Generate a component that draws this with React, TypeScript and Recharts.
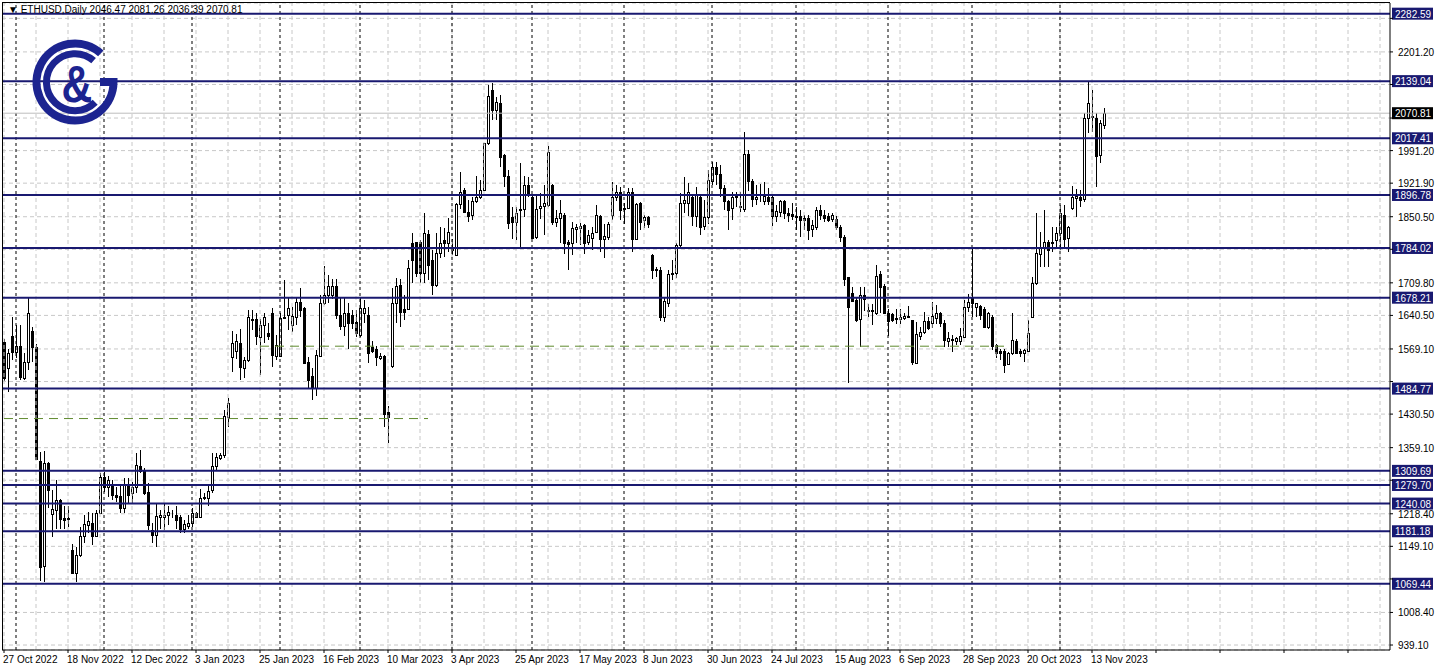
import React from 'react';
import { ComposedChart, Bar, XAxis, YAxis, CartesianGrid, ReferenceLine } from 'recharts';

// ETHUSD daily candles, 27 Oct 2022 .. 15 Nov 2023 (weekdays only)
const opens = [
  1584, 1528, 1597, 1563, 1575, 1508, 1542, 1607, 1574, 1330, 1107, 1326, 1218, 1227, 1248, 1209, 1207, 1141, 1093, 1130,
  1171, 1195, 1198, 1171, 1219, 1296, 1275, 1278, 1258, 1256, 1231, 1280, 1263, 1276, 1319, 1312, 1265, 1184, 1174, 1211,
  1211, 1216, 1219, 1216, 1212, 1185, 1192, 1199, 1219, 1211, 1253, 1253, 1269, 1319, 1338, 1343, 1425, 1553, 1565, 1581,
  1528, 1546, 1632, 1632, 1594, 1620, 1604, 1645, 1554, 1554, 1634, 1641, 1620, 1638, 1668, 1656, 1542, 1511, 1485, 1554,
  1666, 1684, 1684, 1703, 1641, 1618, 1645, 1641, 1627, 1599, 1645, 1641, 1573, 1568, 1549, 1554, 1436, 1533, 1666, 1705,
  1655, 1655, 1795, 1797, 1797, 1730, 1813, 1758, 1705, 1774, 1802, 1795, 1787, 1770, 1877, 1907, 1861, 1854, 1884, 1892,
  1907, 2007, 2121, 2078, 2092, 1982, 1937, 1850, 1840, 1864, 1866, 1919, 1893, 1808, 1870, 1874, 1875, 1918, 1840, 1847,
  1854, 1797, 1794, 1825, 1826, 1833, 1797, 1805, 1818, 1852, 1804, 1808, 1854, 1893, 1904, 1870, 1870, 1904, 1804, 1879,
  1843, 1850, 1769, 1738, 1738, 1638, 1666, 1728, 1731, 1790, 1879, 1880, 1893, 1852, 1892, 1831, 1849, 1927, 1957, 1941,
  1911, 1885, 1870, 1892, 1874, 1868, 1985, 1926, 1889, 1893, 1885, 1893, 1893, 1851, 1861, 1883, 1858, 1856, 1851, 1851,
  1847, 1847, 1824, 1829, 1865, 1854, 1851, 1845, 1845, 1829, 1808, 1723, 1689, 1673, 1632, 1684, 1652, 1649, 1646, 1728,
  1703, 1645, 1643, 1636, 1632, 1634, 1638, 1631, 1540, 1597, 1606, 1629, 1625, 1636, 1645, 1625, 1587, 1590, 1587, 1587,
  1595, 1659, 1677, 1659, 1660, 1655, 1616, 1638, 1577, 1565, 1565, 1537, 1560, 1587, 1565, 1561, 1565, 1638, 1710, 1771,
  1787, 1797, 1795, 1800, 1815, 1854, 1805, 1870, 1891, 1893, 1889, 2061, 2064, 2061, 1982, 2046.47,
];
const highs = [
  1590, 1570, 1638, 1620, 1621, 1560, 1679, 1616, 1580, 1350, 1351, 1329, 1269, 1290, 1250, 1234, 1234, 1154, 1148, 1191,
  1216, 1223, 1219, 1226, 1305, 1308, 1299, 1290, 1276, 1280, 1294, 1294, 1287, 1348, 1354, 1315, 1283, 1198, 1239, 1226,
  1239, 1234, 1226, 1234, 1216, 1205, 1216, 1230, 1223, 1272, 1262, 1282, 1347, 1347, 1348, 1439, 1464, 1608, 1600, 1611,
  1553, 1653, 1652, 1645, 1632, 1645, 1624, 1656, 1599, 1645, 1716, 1677, 1659, 1677, 1698, 1659, 1553, 1528, 1567, 1684,
  1746, 1726, 1719, 1719, 1677, 1677, 1666, 1652, 1652, 1677, 1673, 1659, 1585, 1575, 1560, 1556, 1448, 1698, 1720, 1719,
  1684, 1758, 1815, 1797, 1801, 1858, 1822, 1780, 1815, 1829, 1826, 1847, 1804, 1879, 1946, 1911, 1886, 1893, 1937, 1929,
  2008, 2131, 2134, 2106, 2109, 1985, 1950, 1872, 1872, 1964, 1937, 1936, 1897, 1897, 1900, 1918, 2001, 1921, 1865, 1886,
  1858, 1801, 1840, 1836, 1838, 1836, 1822, 1829, 1875, 1854, 1836, 1840, 1925, 1918, 1914, 1879, 1911, 1911, 1879, 1882,
  1854, 1852, 1772, 1744, 1744, 1679, 1737, 1758, 1794, 1902, 1936, 1923, 1897, 1914, 1897, 1886, 1950, 1968, 1968, 1961,
  1918, 1887, 1904, 1904, 1904, 2031, 1992, 1930, 1918, 1920, 1925, 1911, 1897, 1875, 1887, 1887, 1870, 1879, 1872, 1865,
  1855, 1854, 1843, 1872, 1875, 1865, 1858, 1858, 1851, 1833, 1811, 1723, 1702, 1680, 1701, 1700, 1665, 1665, 1748, 1734,
  1708, 1655, 1646, 1655, 1655, 1645, 1660, 1631, 1627, 1616, 1648, 1638, 1670, 1662, 1648, 1631, 1606, 1599, 1595, 1613,
  1674, 1687, 1787, 1666, 1662, 1659, 1648, 1641, 1580, 1570, 1570, 1563, 1645, 1590, 1570, 1570, 1631, 1723, 1858, 1818,
  1865, 1801, 1828, 1828, 1875, 1875, 1831, 1916, 1909, 1907, 2072, 2138, 2120, 2072, 2056, 2081.26,
];
const lows = [
  1500, 1478, 1546, 1549, 1503, 1502, 1524, 1542, 1333, 1075, 1074, 1230, 1170, 1187, 1187, 1187, 1191, 1092, 1074, 1127,
  1156, 1177, 1152, 1170, 1218, 1265, 1255, 1248, 1244, 1219, 1219, 1241, 1242, 1262, 1305, 1258, 1184, 1156, 1148, 1187,
  1184, 1195, 1209, 1187, 1178, 1177, 1185, 1191, 1209, 1209, 1248, 1235, 1262, 1312, 1333, 1338, 1404, 1521, 1548, 1503,
  1507, 1542, 1609, 1578, 1514, 1581, 1588, 1531, 1546, 1553, 1632, 1609, 1606, 1620, 1638, 1539, 1487, 1460, 1468, 1553,
  1663, 1666, 1675, 1632, 1609, 1597, 1570, 1611, 1595, 1594, 1624, 1539, 1560, 1533, 1546, 1404, 1368, 1528, 1624, 1616,
  1631, 1652, 1709, 1723, 1709, 1709, 1716, 1684, 1702, 1762, 1765, 1776, 1769, 1768, 1868, 1858, 1840, 1843, 1880, 1889,
  1906, 2003, 2056, 2056, 1957, 1914, 1824, 1804, 1801, 1783, 1850, 1893, 1804, 1804, 1845, 1811, 1872, 1833, 1829, 1794,
  1772, 1737, 1769, 1794, 1790, 1772, 1790, 1780, 1815, 1776, 1762, 1801, 1843, 1884, 1843, 1836, 1868, 1776, 1801, 1822,
  1826, 1826, 1719, 1723, 1629, 1627, 1658, 1716, 1720, 1787, 1858, 1851, 1831, 1829, 1811, 1822, 1836, 1918, 1918, 1893,
  1865, 1822, 1843, 1872, 1861, 1861, 1905, 1872, 1875, 1882, 1875, 1876, 1830, 1840, 1849, 1845, 1840, 1843, 1822, 1808,
  1822, 1801, 1808, 1822, 1843, 1840, 1840, 1840, 1822, 1797, 1703, 1496, 1670, 1627, 1574, 1650, 1638, 1620, 1641, 1645,
  1645, 1597, 1627, 1623, 1623, 1630, 1634, 1535, 1537, 1588, 1602, 1610, 1613, 1623, 1615, 1574, 1574, 1563, 1578, 1578,
  1592, 1648, 1638, 1638, 1631, 1613, 1611, 1567, 1549, 1546, 1517, 1535, 1556, 1560, 1553, 1542, 1563, 1634, 1705, 1743,
  1744, 1744, 1775, 1783, 1780, 1783, 1776, 1865, 1850, 1872, 1882, 2028, 2031, 1914, 1964, 2036.39,
];
const closes = [
  1507, 1561, 1563, 1575, 1510, 1541, 1645, 1574, 1336, 1105, 1326, 1269, 1228, 1248, 1207, 1205, 1209, 1093, 1131, 1171,
  1196, 1202, 1171, 1219, 1296, 1276, 1290, 1258, 1255, 1231, 1280, 1258, 1276, 1322, 1310, 1262, 1195, 1173, 1214, 1216,
  1216, 1223, 1221, 1205, 1185, 1196, 1199, 1219, 1211, 1253, 1254, 1267, 1319, 1340, 1343, 1426, 1455, 1581, 1585, 1530,
  1546, 1638, 1630, 1597, 1620, 1638, 1597, 1556, 1578, 1636, 1638, 1657, 1639, 1668, 1653, 1539, 1504, 1485, 1556, 1666,
  1684, 1703, 1703, 1641, 1618, 1645, 1625, 1625, 1604, 1656, 1656, 1560, 1565, 1553, 1554, 1431, 1424, 1666, 1703, 1648,
  1648, 1741, 1758, 1731, 1731, 1815, 1748, 1705, 1774, 1794, 1794, 1817, 1780, 1877, 1904, 1861, 1851, 1884, 1892, 1907,
  2007, 2107, 2078, 2094, 1978, 1937, 1838, 1840, 1859, 1866, 1919, 1897, 1806, 1868, 1873, 1879, 1989, 1840, 1847, 1858,
  1794, 1792, 1826, 1829, 1830, 1794, 1811, 1816, 1854, 1804, 1809, 1836, 1893, 1904, 1865, 1868, 1904, 1804, 1877, 1840,
  1850, 1836, 1738, 1739, 1638, 1672, 1728, 1731, 1790, 1879, 1887, 1904, 1851, 1897, 1829, 1849, 1929, 1957, 1941, 1911,
  1883, 1865, 1892, 1895, 1871, 1985, 1926, 1889, 1893, 1892, 1895, 1885, 1851, 1863, 1883, 1858, 1855, 1851, 1850, 1844,
  1843, 1822, 1833, 1865, 1854, 1847, 1844, 1854, 1829, 1808, 1717, 1658, 1672, 1631, 1684, 1676, 1649, 1652, 1724, 1701,
  1646, 1629, 1631, 1632, 1637, 1639, 1640, 1542, 1601, 1606, 1629, 1613, 1639, 1645, 1625, 1588, 1592, 1589, 1592, 1597,
  1658, 1670, 1666, 1666, 1641, 1616, 1646, 1575, 1560, 1561, 1535, 1561, 1588, 1561, 1560, 1567, 1604, 1709, 1773, 1787,
  1797, 1780, 1797, 1815, 1858, 1804, 1828, 1893, 1894, 1886, 2060, 2092, 2062, 1980, 2049, 2070.81,
];

// bottom labels, one every 16 bars starting at bar 0
const dateLabels = [
  '27 Oct 2022', '18 Nov 2022', '12 Dec 2022', '3 Jan 2023', '25 Jan 2023', '16 Feb 2023', '10 Mar 2023',
  '3 Apr 2023', '25 Apr 2023', '17 May 2023', '8 Jun 2023', '30 Jun 2023', '24 Jul 2023', '15 Aug 2023',
  '6 Sep 2023', '28 Sep 2023', '20 Oct 2023', '13 Nov 2023',
];
// first bar of each month (period separators)
const monthStarts = [3, 25, 47, 69, 89, 112, 132, 155, 177, 198, 221, 242, 264];

const priceTicks = [
  939.1, 1008.4, 1079.7, 1149.1, 1218.4, 1289.8, 1359.1, 1430.5, 1499.8, 1569.1, 1640.5, 1709.8,
  1781.2, 1850.5, 1921.9, 1991.2, 2060.5, 2131.9, 2201.2, 2272.6,
];
const levels = [2282.59, 2139.04, 2017.41, 1896.78, 1784.02, 1678.21, 1484.77, 1309.69, 1279.7, 1240.08, 1181.18, 1069.44];
const lastPrice = 2070.81;
const greenLines = [
  { from: 0, to: 106, price: 1421 },
  { from: 64, to: 250, price: 1575 },
];

const SLOTS = 347; // visible bar slots incl. empty space on the right
const NAVY = '#191970';
const FONT = 'Liberation Sans, Arial, sans-serif';

const chartData = Array.from({ length: SLOTS }, (_, i) =>
  i < opens.length
    ? { i, range: [lows[i], highs[i]], open: opens[i], high: highs[i], low: lows[i], close: closes[i] }
    : { i, range: null }
);

const gridBars = Array.from({ length: Math.ceil(SLOTS / 8) }, (_, k) => k * 8);

function Candle(props: any) {
  const { x, y, width, height, payload } = props;
  if (!payload || payload.open == null) return null;
  const { open, close, high, low } = payload;
  const top = Math.min(y, y + height);
  const h = Math.abs(height);
  const span = high - low || 1;
  const py = (v: number) => top + ((high - v) / span) * h;
  const cx = Math.floor(x + width / 2);
  const up = close >= open;
  const bt = Math.round(py(Math.max(open, close)));
  const bb = Math.round(py(Math.min(open, close)));
  return (
    <g>
      <line x1={cx + 0.5} x2={cx + 0.5} y1={Math.round(top)} y2={Math.round(top + h)} stroke="#000" strokeWidth={1} />
      <rect x={cx - 0.5} y={bt + 0.5} width={2} height={Math.max(bb - bt, 0)} fill={up ? '#fff' : '#000'} stroke="#000" strokeWidth={1} />
    </g>
  );
}

const PriceTag = ({ viewBox, text, fill }: any) => {
  if (!viewBox) return null;
  const right = viewBox.x + viewBox.width;
  const y = viewBox.y;
  return (
    <g>
      <rect x={right + 2} y={y - 6} width={41} height={12} fill={fill} />
      <text x={right + 5} y={y + 4} fill="#fff" fontSize={10} fontFamily={FONT}>{text}</text>
    </g>
  );
};

const DateTick = ({ x, y, payload }: any) => {
  const label = payload.value % 16 === 0 ? dateLabels[payload.value / 16] : undefined;
  if (!label) return null;
  return (
    <text x={x - 1} y={y + 8} fontSize={10} fontFamily={FONT} fill="#000" textAnchor="start">{label}</text>
  );
};

// tick labels that sit under a price tag are covered in the original, so skip them
const PriceTick = ({ x, y, payload }: any) => {
  const v = payload.value;
  if ([...levels, lastPrice].some((l) => Math.abs(l - v) < 17)) return null;
  return (
    <text x={x + 3} y={y + 4} fontSize={10} fontFamily={FONT} fill="#000">{v.toFixed(2)}</text>
  );
};

export default function App() {
  return (
    <div style={{ position: 'absolute', left: 0, top: 0, width: 1438, height: 670, background: '#fff' }}>
      <ComposedChart
        width={1438}
        height={670}
        data={chartData}
        margin={{ top: 3, right: 0, left: 2, bottom: 0 }}
        barCategoryGap={0}
      >
        <CartesianGrid vertical={false} stroke="#c8c8c8" strokeDasharray="4 3" />
        <XAxis
          dataKey="i"
          type="category"
          interval={15}
          height={20}
          stroke="#000"
          tickSize={3}
          tick={<DateTick />}
        />
        <YAxis
          orientation="right"
          width={48}
          domain={[928.5, 2305.3]}
          allowDataOverflow
          ticks={priceTicks}
          stroke="#000"
          tickSize={3}
          tick={<PriceTick />}
        />
        {gridBars.map((b) => (
          <ReferenceLine key={'g' + b} x={b} stroke="#c8c8c8" strokeDasharray="4 3" />
        ))}
        {monthStarts.map((b) => (
          <ReferenceLine key={'m' + b} x={b} stroke="#000" strokeDasharray="3 3" />
        ))}
        {greenLines.map((g) => (
          <ReferenceLine
            key={'gl' + g.from}
            segment={[{ x: g.from, y: g.price }, { x: g.to, y: g.price }]}
            stroke="#5f8a2e"
            strokeDasharray="9 6"
          />
        ))}
        <ReferenceLine
          y={lastPrice}
          stroke="#bdbdbd"
          label={(p: any) => <PriceTag {...p} text={lastPrice.toFixed(2)} fill="#000" />}
        />
        <Bar dataKey="range" shape={<Candle />} isAnimationActive={false} />
        {levels.map((l) => (
          <ReferenceLine
            key={'l' + l}
            y={l}
            stroke={NAVY}
            strokeWidth={2}
            label={(p: any) => <PriceTag {...p} text={l.toFixed(2)} fill={NAVY} />}
          />
        ))}
      </ComposedChart>
      <svg width={1438} height={670} style={{ position: 'absolute', left: 0, top: 0, pointerEvents: 'none' }}>
        <line x1={2.5} y1={2} x2={2.5} y2={650} stroke="#000" />
        <line x1={2} y1={2.5} x2={1390} y2={2.5} stroke="#000" />
        <text x={8} y={13} fontSize={10} fontFamily={FONT} fill="#000">
          {'\u25BC ETHUSD,Daily  2046.47 2081.26 2036.39 2070.81'}
        </text>
        <g fill="none" stroke="#1c2490">
          <path d="M 100.8 53.4 A 38.5 38.5 0 1 0 113.5 82 L 100 82" strokeWidth={8} />
          <path d="M 93.6 60.6 A 28.5 28.5 0 1 0 95.2 102.2" strokeWidth={7} />
        </g>
        <text
          transform="translate(61.5 102) scale(0.82 1)"
          fontSize={52}
          fontWeight="bold"
          fontFamily={FONT}
          fill="#1c2490"
        >
          &amp;
        </text>
      </svg>
    </div>
  );
}
